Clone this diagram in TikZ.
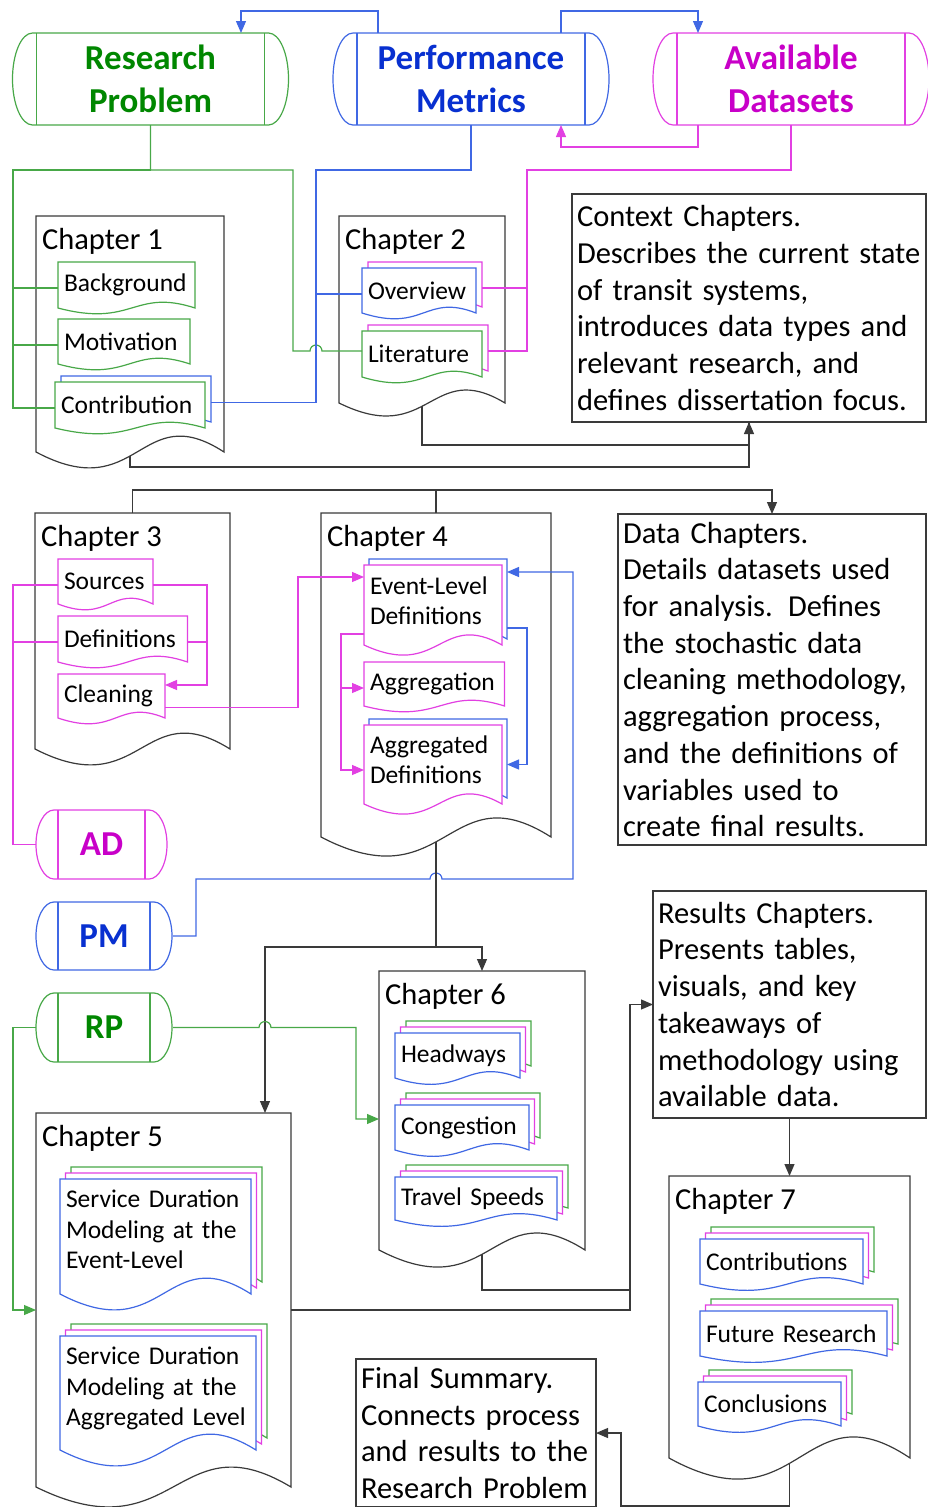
\documentclass[tikz,border=0pt]{standalone}
\usepackage{fontspec}
\setmainfont{Carlito}
\usetikzlibrary{arrows.meta,calc}
\definecolor{rptext}{RGB}{0,135,0}
\definecolor{rpedge}{RGB}{72,168,72}
\definecolor{pmtext}{RGB}{8,48,208}
\definecolor{pmedge}{RGB}{64,104,228}
\definecolor{adtext}{RGB}{200,0,200}
\definecolor{adedge}{RGB}{226,64,226}
\definecolor{darkline}{RGB}{58,58,58}
\pgfdeclarelayer{shapes}
\pgfsetlayers{shapes,main}

% document outline with a wavy bottom, drawn behind the texts
\newcommand{\docoutline}[4][0pt,0pt]{%
  \begin{pgfonlayer}{shapes}
  \draw[#3,fill=white] ($(#2.south west)+(#1)$) -- ($(#2.north west)+(#1)$)
    -- ($(#2.north east)+(#1)$) -- ($(#2.south east)+(#1)$)
    .. controls ($(#2.south west)!0.55!(#2.south east)+(#1)+(0pt,#4)$)
    and ($(#2.south west)!0.55!(#2.south east)+(#1)-(0pt,#4)$) .. ($(#2.south west)+(#1)$) -- cycle;
  \end{pgfonlayer}}

% stored data outline with rounded ends
\newcommand{\storeoutline}[4]{%
  \begin{pgfonlayer}{shapes}
  \draw[#2,fill=white] ([xshift=-4pt]#1.north west) -- ([xshift=4pt]#1.north east)
    arc[start angle=90,end angle=-90,x radius=#3,y radius=#4]
    -- ([xshift=-4pt]#1.south west)
    arc[start angle=270,end angle=90,x radius=#3,y radius=#4] -- cycle;
  \draw[#2] (#1.north west) -- (#1.south west) (#1.north east) -- (#1.south east);
  \end{pgfonlayer}}

\begin{document}
\begin{tikzpicture}[x=1pt,y=-1pt,
  >={Triangle[length=12pt,width=10pt]},
  every node/.style={outer sep=0pt},
  flow/.style={draw=darkline,line width=1.2pt},
  rpl/.style={draw=rpedge,line width=1.2pt},
  pml/.style={draw=pmedge,line width=1.2pt},
  adl/.style={draw=adedge,line width=1.2pt},
  store/.style 2 args={minimum width=#1pt,minimum height=#2pt,inner sep=0pt,
    align=center,font=\bfseries\fontsize{35}{43}\selectfont},
  chapdoc/.style 2 args={minimum width=#1pt,minimum height=#2pt,inner sep=0pt},
  chaptitle/.style={anchor=base west,inner sep=0pt,font=\fontsize{30.5}{36}\selectfont},
  subdoc/.style 2 args={text width=#1pt,minimum height=#2pt,inner xsep=6pt,
    inner ysep=0pt,align=left,font=\fontsize{25.5}{30.5}\selectfont},
  note/.style 2 args={text width=#1pt,minimum height=#2pt,draw=darkline,
    line width=1.2pt,inner xsep=5pt,inner ysep=2pt,align=left,
    font=\fontsize{30.5}{36.7}\selectfont}]
\useasboundingbox (0,0) rectangle (927,1507);

% sources
\node[store={228}{92},text=rptext] (rp) at (150.5,79) {Research\\Problem};
\node[store={228}{92},text=pmtext] (pm) at (471,79) {Performance\\Metrics};
\node[store={228}{92},text=adtext] (ad) at (791,79) {Available\\Datasets};
\storeoutline{rp}{rpl}{20pt}{46pt}
\storeoutline{pm}{pml}{20pt}{46pt}
\storeoutline{ad}{adl}{20pt}{46pt}
\node[store={87}{69},text=adtext] (adsm) at (101.5,844.5) {AD};
\node[store={92}{68},text=pmtext] (pmsm) at (104,936) {PM};
\node[store={92}{69},text=rptext] (rpsm) at (104,1027.5) {RP};
\storeoutline{adsm}{adl}{18pt}{34.5pt}
\storeoutline{pmsm}{pml}{18pt}{34pt}
\storeoutline{rpsm}{rpl}{18pt}{34.5pt}

% chapter 1
\node[chapdoc={188}{236}] (ch1) at (130,334) {};
\docoutline{ch1}{flow}{55pt}
\node[chaptitle] (ch1t) at ([xshift=6pt,yshift=-33pt]ch1.north west) {Chapter 1};
\node[subdoc={125}{46}] (bkg) at (126.5,285) {Background};
\node[subdoc={120}{45}] (mot) at (124,341.5) {Motivation};
\node[subdoc={138}{46}] (con) at (130,405) {Contribution};
\docoutline{bkg}{rpl}{20pt}
\docoutline{mot}{rpl}{20pt}
\docoutline[6pt,6pt]{con}{pml}{20pt}
\docoutline{con}{rpl}{20pt}

% chapter 2
\node[chapdoc={166}{187}] (ch2) at (422,309.5) {};
\docoutline{ch2}{flow}{45pt}
\node[chaptitle] (ch2t) at ([xshift=6pt,yshift=-33pt]ch2.north west) {Chapter 2};
\node[subdoc={102}{45}] (ovw) at (419,290.5) {Overview};
\node[subdoc={108}{46}] (lit) at (422,354) {Literature};
\docoutline[6pt,6pt]{ovw}{adl}{20pt}
\docoutline{ovw}{pml}{20pt}
\docoutline[6pt,6pt]{lit}{adl}{20pt}
\docoutline{lit}{rpl}{20pt}

% chapter 3
\node[chapdoc={195}{236}] (ch3) at (132.5,631) {};
\docoutline{ch3}{flow}{55pt}
\node[chaptitle] (ch3t) at ([xshift=6pt,yshift=-33pt]ch3.north west) {Chapter 3};
\node[subdoc={83}{45}] (src) at (105.5,581.5) {Sources};
\node[subdoc={117.5}{46}] (dfn) at (122.75,639) {Definitions};
\node[subdoc={95}{44}] (cln) at (111.5,696) {Cleaning};
\docoutline{src}{adl}{20pt}
\docoutline{dfn}{adl}{20pt}
\docoutline{cln}{adl}{20pt}

% chapter 4
\node[chapdoc={230}{324}] (ch4) at (436,675) {};
\docoutline{ch4}{flow}{66pt}
\node[chaptitle] (ch4t) at ([xshift=6pt,yshift=-33pt]ch4.north west) {Chapter 4};
\node[subdoc={126}{80},text depth=39.5pt] (evt) at (433,605) {Event-Level\\Definitions};
\node[subdoc={128.5}{44}] (agg) at (434.25,684) {Aggregation};
\node[subdoc={126}{79},text depth=40.5pt] (agd) at (433,764.5) {Aggregated\\Definitions};
\docoutline[5pt,6pt]{evt}{pml}{35pt}
\docoutline{evt}{adl}{35pt}
\docoutline{agg}{adl}{20pt}
\docoutline[5pt,6pt]{agd}{pml}{35pt}
\docoutline{agd}{adl}{35pt}

% chapter 5
\node[chapdoc={255}{374}] (ch5) at (163.5,1300) {};
\docoutline{ch5}{flow}{69pt}
\node[chaptitle] (ch5t) at ([xshift=6pt,yshift=-33pt]ch5.north west) {Chapter 5};
\node[subdoc={179}{115},text depth=75pt] (sd1) at (155.5,1236.5) {Service Duration\\Modeling at the\\Event-Level};
\node[subdoc={184}{114},text depth=74pt] (sd2) at (158,1393) {Service Duration\\Modeling at the\\Aggregated Level};
\foreach \n in {sd1,sd2} {
  \docoutline[11pt,12pt]{\n}{rpl}{55pt}
  \docoutline[5.5pt,6pt]{\n}{adl}{55pt}
  \docoutline{\n}{pml}{55pt}
}

% chapter 6
\node[chapdoc={206}{279}] (ch6) at (482,1110.5) {};
\docoutline{ch6}{flow}{59pt}
\node[chaptitle] (ch6t) at ([xshift=6pt,yshift=-33pt]ch6.north west) {Chapter 6};
\node[subdoc={113}{45}] (hdw) at (457.5,1055.5) {Headways};
\node[subdoc={122}{45}] (cgs) at (462,1127.5) {Congestion};
\node[subdoc={150}{43}] (tsp) at (476,1198.5) {Travel Speeds};

% chapter 7
\node[chapdoc={241}{282}] (ch7) at (789.5,1317) {};
\docoutline{ch7}{flow}{73pt}
\node[chaptitle] (ch7t) at ([xshift=6pt,yshift=-33pt]ch7.north west) {Chapter 7};
\node[subdoc={151}{45}] (ctb) at (781.5,1261.5) {Contributions};
\node[subdoc={175}{45}] (fut) at (793.5,1333.5) {Future Research};
\node[subdoc={131}{44}] (ccl) at (769.5,1404) {Conclusions};
\foreach \n in {hdw,cgs,tsp,ctb,fut,ccl} {
  \docoutline[11pt,12pt]{\n}{rpl}{22pt}
  \docoutline[5.5pt,6pt]{\n}{adl}{22pt}
  \docoutline{\n}{pml}{22pt}
}

% notes
\node[note={344}{228}] (ctx) at (749,308) {Context Chapters.\\Describes the current state\\of transit systems,\\introduces data types and\\relevant research, and\\defines dissertation focus.};
\node[note={298}{331}] (dat) at (772,679.5) {Data Chapters.\\Details datasets used\\for analysis. Defines\\the stochastic data\\cleaning methodology,\\aggregation process,\\and the definitions of\\variables used to\\create final results.};
\node[note={263}{227}] (res) at (789.5,1004.5) {Results Chapters.\\Presents tables,\\visuals, and key\\takeaways of\\methodology using\\available data.};
\node[note={230}{148}] (fin) at (476,1433) {Final Summary.\\Connects process\\and results to the\\Research Problem};

% links between the sources
\draw[pml,->] ([xshift=21pt]pm.north west) -- ++(0,-22) -| ([xshift=204.5pt]rp.north west);
\draw[pml,->] ([xshift=-24pt]pm.north east) -- ++(0,-22) -| ([xshift=21pt]ad.north west);
\draw[adl,->] ([xshift=21pt]ad.south west) -- ++(0,22) -| ([xshift=-24pt]pm.south east);

% chapters 1 and 2
\coordinate (rpbus) at (13,170);
\coordinate (rpturn) at (293,170);
\coordinate (pmturn) at (316,170);
\coordinate (adturn) at (527,170);
\draw[rpl] (rp.south) |- (rpbus) |- ([yshift=-3pt]con.west);
\draw[rpl] ([yshift=-3pt]bkg.west) -| (rpbus);
\draw[rpl] ([yshift=-3.5pt]mot.west) -| (rpbus);
\draw[rpl] (rp.south) |- (rpturn) -- (293,351) -- (310,351)
  arc[start angle=180,end angle=0,radius=6pt] -- ([yshift=3pt]lit.west);
\draw[pml] (pm.south) |- (pmturn) |- ([xshift=6pt,yshift=2.5pt]con.east);
\draw[pml] ([yshift=-3.5pt]ovw.west) -| (pmturn);
\draw[adl] (ad.south) |- (adturn) |- ([xshift=6pt,yshift=3pt]lit.east);
\draw[adl] ([xshift=6pt,yshift=2.5pt]ovw.east) -| (adturn);
\draw[flow] ([yshift=-3pt]ch2.south) -- ++(0,39) -| (ctx.south);
\draw[flow,->] ([yshift=-4pt]ch1.south) -- ++(0,11) -| (ctx.south);

% chapters 3 and 4
\draw[flow,->] (ch3.north) -- ++(0,-23) -| (dat.north);
\draw[flow] (ch4.north) -- ++(0,-23);
\draw[adl] ([yshift=-3.5pt]src.west) -| ([xshift=-45pt]adsm.west) -- ([xshift=-22pt]adsm.west);
\draw[adl] ([yshift=-3pt]dfn.west) -| ([xshift=-45pt]adsm.west);
\draw[adl,->] ([yshift=-3.5pt]src.east) -| ([xshift=42pt,yshift=11pt]cln.east) -- ([yshift=11pt]cln.east);
\draw[adl] ([yshift=-3pt]dfn.east) -| ([xshift=42pt,yshift=11pt]cln.east);
\draw[adl,->] ([yshift=-11.5pt]cln.east) -| ([xshift=-66pt,yshift=28pt]evt.west) -- ([yshift=28pt]evt.west);
\draw[adl,->] ([yshift=-29pt]evt.west) -| ([xshift=-23pt,yshift=-5.5pt]agd.west) -- ([yshift=-5.5pt]agd.west);
\draw[adl,->] ([xshift=-23pt,yshift=-4pt]agg.west) -- ([yshift=-4pt]agg.west);
\draw[pml,->] ([xshift=5pt,yshift=-23pt]evt.east) -| ([xshift=25pt]agd.east) -- ([xshift=5pt]agd.east);
\draw[pml,->] ([xshift=23pt]pmsm.east) -- ++(23,0) -- ++(0,-57) -- (430,879)
  arc[start angle=180,end angle=0,radius=6pt] -- (573,879) |- ([xshift=5pt,yshift=33pt]evt.east);

% chapters 5 to 7
\draw[flow,->] ([yshift=-5pt]ch4.south) -- ++(0,105) -| (ch6.north);
\draw[flow,->] ([yshift=-5pt]ch4.south) -- ++(0,105) -| ([xshift=101.5pt]ch5.north);
\draw[rpl,->] ([xshift=23pt]rpsm.east) -- (259,1027.5)
  arc[start angle=180,end angle=0,radius=6pt] -- (356,1027.5) |- ([yshift=-8.5pt]ch6.west);
\draw[rpl,->] ([xshift=-22pt]rpsm.west) -| ([xshift=-23pt,yshift=-10pt]ch5.west) -- ([yshift=-10pt]ch5.west);
\draw[flow] ([yshift=-10pt]ch5.east) -| ([xshift=-23pt]res.west);
\draw[flow,->] ([yshift=-4pt]ch6.south) -- ++(0,36) -| ([xshift=-23pt]res.west) -- (res.west);
\draw[flow,->] (res.south) -- (ch7.north);
\draw[flow,->] ([yshift=-5pt]ch7.south) -- ++(0,43) -| ([xshift=25pt]fin.east) -- (fin.east);
\end{tikzpicture}
\end{document}
